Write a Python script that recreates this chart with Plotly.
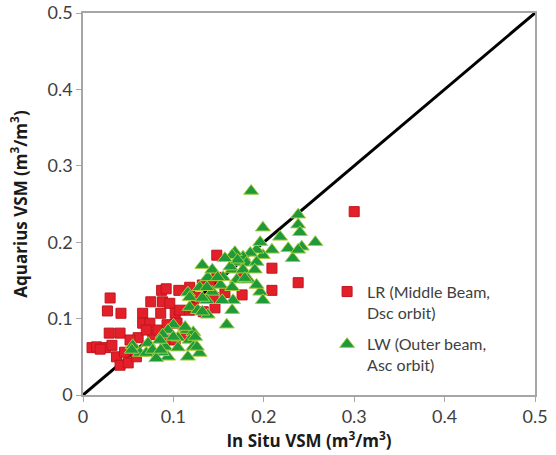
import plotly.graph_objects as go

# LR (Middle Beam, Dsc orbit) - red squares
lr_x = [0.010, 0.015, 0.025, 0.030, 0.027, 0.042, 0.029, 0.041, 0.037, 0.041,
        0.050, 0.046, 0.055, 0.061, 0.066, 0.066, 0.074, 0.075, 0.077, 0.083,
        0.087, 0.086, 0.059, 0.092, 0.106, 0.118, 0.088, 0.096, 0.102, 0.107,
        0.118, 0.126, 0.148, 0.148, 0.132, 0.140, 0.157, 0.144, 0.122, 0.133,
        0.146, 0.093, 0.104, 0.113, 0.091, 0.102, 0.209, 0.238, 0.209, 0.177,
        0.176, 0.300, 0.070, 0.052, 0.032, 0.019]
lr_y = [0.062, 0.063, 0.062, 0.127, 0.110, 0.107, 0.081, 0.081, 0.050, 0.039,
        0.042, 0.056, 0.059, 0.075, 0.107, 0.094, 0.094, 0.122, 0.079, 0.085,
        0.137, 0.107, 0.050, 0.139, 0.137, 0.141, 0.122, 0.120, 0.107, 0.111,
        0.111, 0.128, 0.183, 0.154, 0.144, 0.148, 0.134, 0.128, 0.114, 0.109,
        0.114, 0.092, 0.094, 0.079, 0.072, 0.072, 0.166, 0.147, 0.137, 0.154,
        0.131, 0.240, 0.085, 0.072, 0.065, 0.060]

# LW (Outer beam, Asc orbit) - green triangles
lw_x = [0.186, 0.199, 0.238, 0.238, 0.240, 0.257, 0.218, 0.227, 0.242, 0.209,
        0.232, 0.199, 0.192, 0.185, 0.177, 0.168, 0.170, 0.181, 0.192, 0.165,
        0.177, 0.190, 0.170, 0.183, 0.196, 0.199, 0.166, 0.165, 0.132, 0.163,
        0.138, 0.155, 0.152, 0.165, 0.129, 0.116, 0.143, 0.137, 0.154, 0.118,
        0.127, 0.138, 0.165, 0.159, 0.100, 0.094, 0.115, 0.122, 0.105, 0.118,
        0.091, 0.105, 0.122, 0.129, 0.094, 0.116, 0.118, 0.132, 0.132, 0.113,
        0.088, 0.100, 0.124, 0.055, 0.072, 0.085, 0.063, 0.076, 0.087, 0.126,
        0.054, 0.070, 0.077, 0.081, 0.086, 0.196, 0.238, 0.171, 0.157, 0.143,
        0.149, 0.179, 0.192, 0.137]
lw_y = [0.267, 0.219, 0.236, 0.223, 0.213, 0.200, 0.207, 0.192, 0.194, 0.190,
        0.179, 0.183, 0.190, 0.186, 0.181, 0.187, 0.174, 0.173, 0.174, 0.164,
        0.164, 0.164, 0.151, 0.151, 0.135, 0.124, 0.124, 0.183, 0.170, 0.168,
        0.154, 0.154, 0.144, 0.141, 0.141, 0.134, 0.135, 0.124, 0.124, 0.115,
        0.111, 0.105, 0.111, 0.092, 0.092, 0.085, 0.085, 0.082, 0.075, 0.072,
        0.063, 0.062, 0.063, 0.055, 0.050, 0.050, 0.128, 0.127, 0.109, 0.089,
        0.079, 0.076, 0.076, 0.065, 0.068, 0.072, 0.055, 0.056, 0.056, 0.063,
        0.059, 0.055, 0.059, 0.048, 0.059, 0.200, 0.190, 0.177, 0.179, 0.164,
        0.154, 0.153, 0.144, 0.141]

line_x = [0, 0.5]
line_y = [0, 0.5]
ticks = [0, 0.1, 0.2, 0.3, 0.4, 0.5]
tick_text = ["0", "0.1", "0.2", "0.3", "0.4", "0.5"]

fig = go.Figure()
fig.add_trace(go.Scatter(x=line_x, y=line_y, mode="lines",
                         line=dict(color="black", width=3), showlegend=False,
                         hoverinfo="skip"))
fig.add_trace(go.Scatter(x=lr_x, y=lr_y, mode="markers",
                         name="LR (Middle Beam,<br>Dsc orbit)", legendgroup="lr",
                         marker=dict(symbol="square", size=10, color="#e3202a",
                                     line=dict(color="#c0141c", width=1))))
fig.add_trace(go.Scatter(x=lw_x, y=lw_y, mode="markers",
                         name="LW (Outer beam,<br>Asc orbit)", legendgroup="lw",
                         marker=dict(symbol="triangle-up", size=13, color="#1f9a3a",
                                     line=dict(color="#a8cc40", width=1))))

axis_common = dict(range=[0, 0.5], tickvals=ticks, ticktext=tick_text,
                   showgrid=False, zeroline=False, showline=True,
                   linecolor="#a6a6a6", linewidth=1.5, mirror=True,
                   ticks="outside", ticklen=5, tickcolor="#a6a6a6", automargin=False,
                   tickfont=dict(family="Lato, Open Sans, sans-serif", size=18, color="#404040"))

fig.update_xaxes(**axis_common,
                 title=dict(text="<b>In Situ VSM (m<sup>3</sup>/m<sup>3</sup>)</b>",
                            font=dict(family="Open Sans, sans-serif", size=17, color="#1a1a1a"),
                            standoff=2))
fig.update_yaxes(**axis_common,
                 title=dict(text="<b>Aquarius VSM (m<sup>3</sup>/m<sup>3</sup>)</b>",
                            font=dict(family="Open Sans, sans-serif", size=17, color="#1a1a1a"),
                            standoff=16))

fig.update_layout(
    width=556, height=455,
    margin=dict(l=83, r=21, t=13, b=60),
    paper_bgcolor="white", plot_bgcolor="white",
    legend=dict(x=0.54, y=0.315, xanchor="left", yanchor="top",
                bgcolor="rgba(0,0,0,0)", valign="top", tracegroupgap=8,
                traceorder="grouped",
                font=dict(family="Lato, Open Sans, sans-serif", size=16, color="#404040"),
                itemwidth=30),
)

fig.write_html("out.html")
